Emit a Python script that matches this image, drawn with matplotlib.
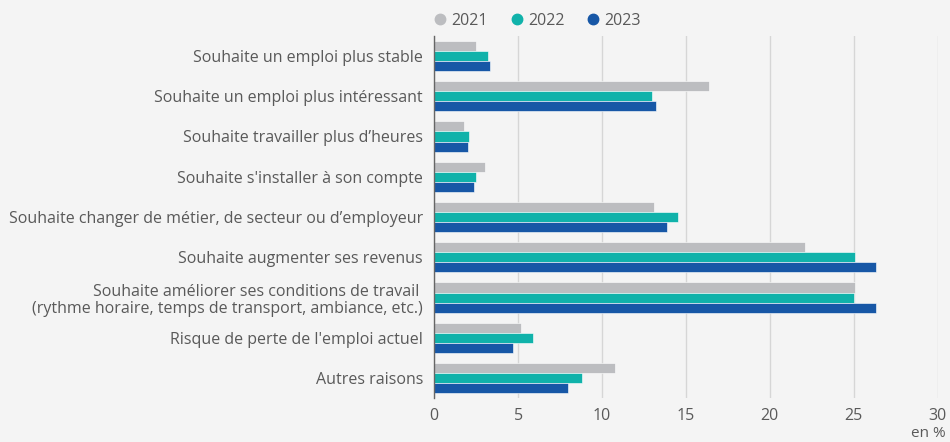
"""Raisons de la recherche d'un autre emploi, 2021-2023."""

import matplotlib.pyplot as plt
import numpy as np

categories = [
    "Souhaite un emploi plus stable",
    "Souhaite un emploi plus intéressant",
    "Souhaite travailler plus d’heures",
    "Souhaite s'installer à son compte",
    "Souhaite changer de métier, de secteur ou d’employeur",
    "Souhaite augmenter ses revenus",
    "Souhaite améliorer ses conditions de travail \n(rythme horaire, temps de transport, ambiance, etc.)",
    "Risque de perte de l'emploi actuel",
    "Autres raisons",
]
years = ["2021", "2022", "2023"]
values_2021 = [2.5, 16.4, 1.8, 3.0, 13.1, 22.1, 25.1, 5.2, 10.8]
values_2022 = [3.2, 13.0, 2.1, 2.5, 14.5, 25.1, 25.0, 5.9, 8.8]
values_2023 = [3.3, 13.2, 2.0, 2.4, 13.9, 26.3, 26.3, 4.7, 8.0]
colors = ["#bcbdc0", "#10b2aa", "#1757a6"]

plt.rcParams["font.family"] = ["Open Sans", "DejaVu Sans"]
bg = "#f4f4f4"
text_color = "#595959"

fig = plt.figure(figsize=(9.5, 4.42), dpi=100, facecolor=bg)
ax = fig.add_axes([0.457, 0.099, 0.530, 0.820], facecolor=bg)

y = np.arange(len(categories))
height = 0.25
for i, (vals, year, color) in enumerate(zip([values_2021, values_2022, values_2023], years, colors)):
    ax.barh(y + (i - 1) * height, vals, height=height, color=color,
            edgecolor="white", linewidth=0.4, label=year, zorder=3)

ax.set_ylim(len(categories) - 0.5, -0.5)
ax.set_xlim(0, 30)
ax.set_xticks(range(0, 31, 5))
ax.set_yticks(y)
ax.set_yticklabels(categories, fontsize=11.5, color=text_color, linespacing=1.15)
ax.tick_params(axis="y", length=0, pad=8)
ax.tick_params(axis="x", length=0, pad=7, labelsize=11.5, labelcolor=text_color)
ax.grid(axis="x", color="#d6d6d6", linewidth=1, zorder=0)
for side in ["top", "right", "bottom"]:
    ax.spines[side].set_visible(False)
ax.spines["left"].set_color("#666666")
ax.spines["left"].set_linewidth(1)
ax.spines["left"].set_zorder(4)

handles = [plt.Line2D([], [], marker="o", linestyle="", markersize=7.5,
                      markerfacecolor=c, markeredgecolor=c) for c in colors]
fig.legend(handles, years, loc="center left", bbox_to_anchor=(0.44, 0.953),
           ncol=3, frameon=False, fontsize=11.5, labelcolor=text_color,
           handletextpad=0.2, columnspacing=1.3, handlelength=1.0)

fig.text(0.995, 0.003, "en %", ha="right", va="bottom", fontsize=11, color=text_color)

fig.savefig("out.png", dpi=100, facecolor=bg)
